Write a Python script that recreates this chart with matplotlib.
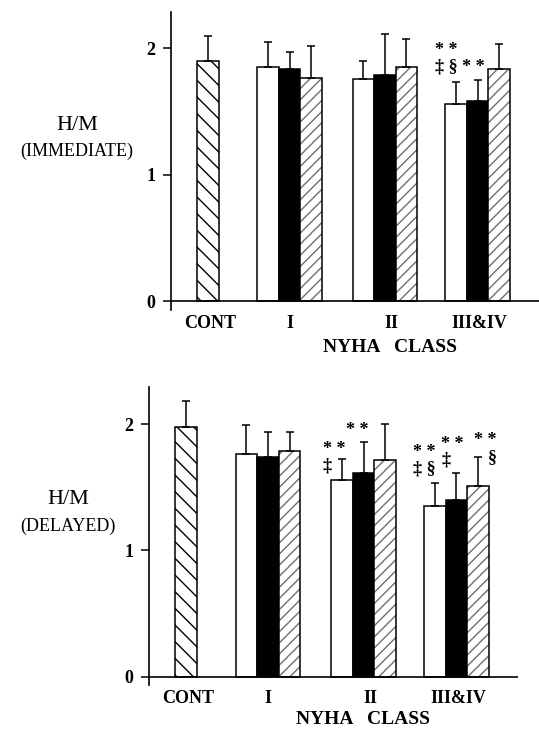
import matplotlib
matplotlib.use("Agg")
import matplotlib.pyplot as plt
import numpy as np

plt.rcParams['font.family'] = ['Liberation Serif', 'DejaVu Serif']
plt.rcParams['hatch.linewidth'] = 1.0

# ---------------- data ----------------
groups = ["CONT", "I", "II", "III&IV"]
x_title = "NYHA   CLASS"

imm_cont = 1.90
imm_cont_err = 0.195
imm_white = [1.85, 1.755, 1.555]
imm_white_err = [0.20, 0.145, 0.18]
imm_black = [1.836, 1.79, 1.58]
imm_black_err = [0.13, 0.32, 0.17]
imm_dot = [1.763, 1.85, 1.836]
imm_dot_err = [0.255, 0.22, 0.195]

del_cont = 1.98
del_cont_err = 0.20
del_white = [1.763, 1.557, 1.354]
del_white_err = [0.227, 0.164, 0.177]
del_black = [1.737, 1.61, 1.401]
del_black_err = [0.20, 0.246, 0.214]
del_dot = [1.787, 1.716, 1.512]
del_dot_err = [0.15, 0.284, 0.23]

yticks = [0, 1, 2]

# significance marks: (text, x, y, horizontal alignment) in data coords
imm_marks = [("* *\n‡ § * *", 12.30, 1.913, 'left')]
del_marks = [("* *\n‡", 8.05, 1.736, 'left'),
             ("* *", 9.65, 1.948, 'center'),
             ("* *\n‡ §", 12.26, 1.708, 'left'),
             ("* *\n‡", 13.55, 1.777, 'left'),
             ("* *\n§", 16.12, 1.803, 'right')]

# ---------------- layout ----------------
W, H = 539, 732
fig = plt.figure(figsize=(W / 100, H / 100), dpi=100)

cont_pos = 1.72
grp_pos = np.array([5.52, 9.95, 14.26])
label_pos = [1.8, 5.53, 10.25, 14.35]
bw = 1.0
xmax = 368 / 21.5


def panel(rect, cont, cont_err, white, white_err, black, black_err,
          dot, dot_err, marks, ylim):
    ax = fig.add_axes(rect)
    ekw = dict(elinewidth=1.1, capthick=1.1)
    # control
    ax.bar(cont_pos, cont, bw, color='white', edgecolor='black',
           hatch='\\\\', linewidth=1.1, zorder=2)
    ax.errorbar(cont_pos, cont, yerr=[[0], [cont_err]], fmt='none',
                ecolor='black', capsize=2.6, zorder=3, **ekw)
    # white
    xw = grp_pos - bw
    ax.bar(xw, white, bw, color='white', edgecolor='black', linewidth=1.1, zorder=2)
    ax.errorbar(xw, white, yerr=[np.zeros(3), white_err], fmt='none',
                ecolor='black', capsize=2.6, zorder=3, **ekw)
    # black
    xb = grp_pos
    ax.bar(xb, black, bw, color='black', edgecolor='black', linewidth=1.1, zorder=2)
    ax.errorbar(xb, black, yerr=[np.zeros(3), black_err], fmt='none',
                ecolor='black', capsize=2.6, zorder=1, **ekw)
    # dotted
    xd = grp_pos + bw
    ax.bar(xd, dot, bw, color='white', edgecolor='#6e6e6e', hatch='///',
           linewidth=0, zorder=2)
    ax.bar(xd, dot, bw, fill=False, edgecolor='black', linewidth=1.1, zorder=2.5)
    ax.errorbar(xd, dot, yerr=[np.zeros(3), dot_err], fmt='none',
                ecolor='black', capsize=2.6, zorder=3, **ekw)

    ax.axhline(0, color='black', linewidth=1.2, zorder=4)
    ax.set_xlim(0, xmax)
    ax.set_ylim(*ylim)
    for s in ['top', 'right', 'bottom']:
        ax.spines[s].set_visible(False)
    ax.spines['left'].set_linewidth(1.2)
    ax.set_yticks(yticks)
    ax.set_yticklabels([str(t) for t in yticks], fontsize=13, fontweight='bold')
    ax.tick_params(axis='y', direction='out', length=5.5, width=1.1, pad=6)
    ax.set_xticks(label_pos)
    ax.set_xticklabels(groups, fontsize=13, fontweight='bold')
    ax.tick_params(axis='x', length=0, pad=3.5)
    for t, x, y, ha in marks:
        ax.text(x, y, t, ha=ha, va='center', multialignment=ha,
                fontsize=13, fontweight='bold', linespacing=0.95, zorder=5)
    return ax


ax1 = panel([171 / W, 1 - 310 / H, 368 / W, 298 / H],
            imm_cont, imm_cont_err, imm_white, imm_white_err,
            imm_black, imm_black_err, imm_dot, imm_dot_err,
            imm_marks, (-0.071, 2.285))
ax2 = panel([149 / W, 1 - 685 / H, 369 / W, 298.3 / H],
            del_cont, del_cont_err, del_white, del_white_err,
            del_black, del_black_err, del_dot, del_dot_err,
            del_marks, (-0.066, 2.296))

fig.text(390 / W, 1 - 348 / H, x_title, ha='center', va='center',
         fontsize=14, fontweight='bold')
fig.text(363 / W, 1 - 720 / H, x_title, ha='center', va='center',
         fontsize=14, fontweight='bold')

fig.text(77 / W, 1 - 125 / H, "H/M", ha='center', va='center', fontsize=16)
fig.text(77 / W, 1 - 151 / H, "(IMMEDIATE)", ha='center', va='center', fontsize=13)
fig.text(68 / W, 1 - 500 / H, "H/M", ha='center', va='center', fontsize=16)
fig.text(68 / W, 1 - 526 / H, "(DELAYED)", ha='center', va='center', fontsize=13)

fig.savefig("out.png", dpi=100)
